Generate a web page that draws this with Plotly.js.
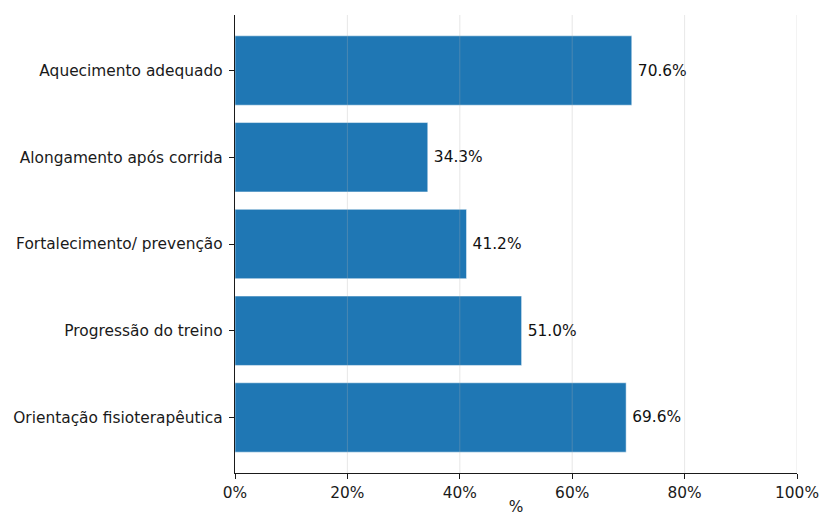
<!DOCTYPE html>
<html>
<head>
<meta charset="utf-8">
<script src="https://cdn.plot.ly/plotly-3.0.1.min.js"></script>
<style>html,body{margin:0;padding:0;background:#fff;}#chart{width:820px;height:516px;}</style>
</head>
<body>
<div id="chart"></div>
<script>
const categories = ["Orientação fisioterapêutica", "Progressão do treino", "Fortalecimento/ prevenção", "Alongamento após corrida", "Aquecimento adequado"];
const values = [69.6, 51.0, 41.2, 34.3, 70.6];
const xTicks = [0, 20, 40, 60, 80, 100];
const xTickLabels = ["0%", "20%", "40%", "60%", "80%", "100%"];

const font = {family: "DejaVu Sans, sans-serif", size: 15.4, color: "#1a1a1a"};

const trace = {
  type: "bar",
  orientation: "h",
  x: values,
  y: categories,
  width: 0.8,
  marker: {color: "#1f77b4", line: {color: "rgba(255,255,255,0.5)", width: 1}},
  text: values.map(v => "\u2009" + v.toFixed(1) + "%"),
  textposition: "outside",
  textfont: {family: "DejaVu Sans, sans-serif", size: 15.4, color: "#111"},
  cliponaxis: false,
  hoverinfo: "none"
};

const gridShapes = xTicks.slice(1).map(t => ({
  type: "line", xref: "x", yref: "paper", x0: t, x1: t, y0: 0, y1: 1,
  line: {color: "rgba(176,176,176,0.3)", width: 1}, layer: "above"
}));

const layout = {
  width: 820, height: 516,
  margin: {l: 235, r: 23, t: 15, b: 43},
  paper_bgcolor: "#fff", plot_bgcolor: "#fff",
  font: font,
  showlegend: false,
  shapes: gridShapes,
  xaxis: {
    range: [0, 100],
    tickvals: xTicks, ticktext: xTickLabels,
    showgrid: false, zeroline: false,
    showline: true, linecolor: "#1a1a1a", linewidth: 1.2,
    ticks: "outside", ticklen: 5, tickcolor: "#1a1a1a", tickwidth: 1,
    tickfont: font,
    title: {text: "%", font: font, standoff: 18},
    automargin: false
  },
  yaxis: {
    type: "category",
    range: [-0.64, 4.64],
    showgrid: false, zeroline: false,
    showline: true, linecolor: "#1a1a1a", linewidth: 1.2,
    ticks: "outside", ticklen: 5, tickcolor: "#1a1a1a", tickwidth: 1,
    ticklabelstandoff: 3,
    tickfont: font,
    automargin: false
  }
};

Plotly.newPlot("chart", [trace], layout, {staticPlot: true, displayModeBar: false});
</script>
</body>
</html>
